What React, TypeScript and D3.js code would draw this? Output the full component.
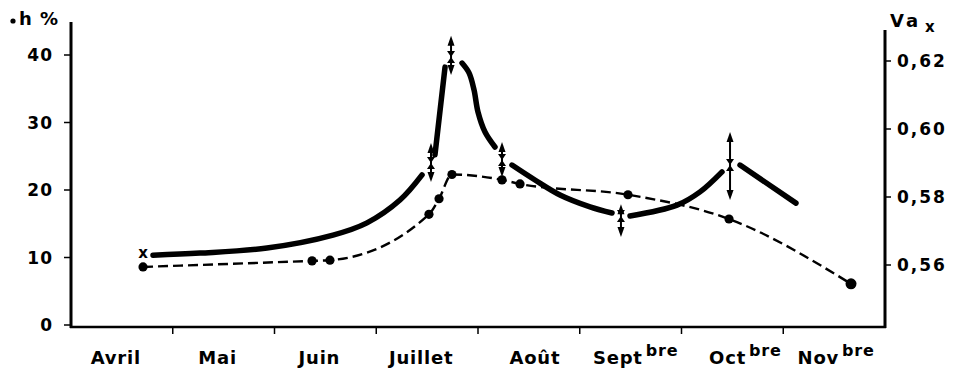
import React from "react";
import * as d3 from "d3";

// ---- data ----
const months = ["Avril", "Mai", "Juin", "Juillet", "Août", "Sept", "Oct", "Nov"];
const monthSup = ["", "", "", "", "", "bre", "bre", "bre"];

const hTicks = [0, 10, 20, 30, 40];
const vaTicks = [0.56, 0.58, 0.6, 0.62];

// h % (dashed line with dots), x in months from start of April
const hX = [0.708, 2.369, 2.545, 3.518, 3.617, 3.744, 4.236, 4.413, 5.474, 6.467, 7.666];
const hY = [8.6, 9.5, 9.6, 16.4, 18.7, 22.3, 21.5, 20.9, 19.3, 15.7, 6.1];

// Va x (thick solid line), drawn in pieces broken at the measured points
const vaSeg1: [number, number][] = [[0.806, 0.5629], [1.268, 0.5635], [1.926, 0.565], [2.575, 0.5688], [2.909, 0.5724], [3.233, 0.5791], [3.45, 0.5865]];
const vaSeg2: [number, number][] = [[3.577, 0.5924], [3.676, 0.6182]];
const vaSeg3: [number, number][] = [[3.843, 0.6194], [3.912, 0.6165], [3.961, 0.6115], [4.0, 0.605], [4.069, 0.5991], [4.167, 0.5947]];
const vaSeg4: [number, number][] = [[4.334, 0.5894], [4.56, 0.585], [4.806, 0.5806], [5.101, 0.5771], [5.317, 0.5753]];
const vaSeg5: [number, number][] = [[5.494, 0.5744], [5.956, 0.5776], [6.182, 0.5815], [6.398, 0.5874]];
const vaSeg6: [number, number][] = [[6.575, 0.5894], [7.125, 0.5782]];
const vaSegments = [vaSeg1, vaSeg2, vaSeg3, vaSeg4, vaSeg5, vaSeg6];

// measured Va x points with ranges
const vaMarkX = [3.538, 3.735, 4.236, 5.405, 6.477];
const vaMarkY = [0.59, 0.6212, 0.5909, 0.5744, 0.5894];
const vaMarkHi = [0.5959, 0.6274, 0.5962, 0.5779, 0.5991];
const vaMarkLo = [0.5844, 0.6159, 0.5859, 0.5682, 0.5791];
const vaStartX = 0.708;
const vaStartY = 0.5635;

// ---- layout ----
const W = 956, H = 370;
const X0 = 71, X1 = 885, BASE = 327;
const FONT = "'DejaVu Sans', sans-serif";
const labelShift = [-6, -6, -6, -6, 6, 5, 13, 2];

export default function App() {
  const x = d3.scaleLinear().domain([0, 8]).range([X0, X1]);
  const yL = d3.scaleLinear().domain([0, 40]).range([325, 55]);
  const yR = d3.scaleLinear().domain([0.56, 0.62]).range([265, 61]);

  const hLine = d3
    .line<number>()
    .x((_, i) => x(hX[i]))
    .y((d) => yL(d))
    .curve(d3.curveMonotoneX);

  const vaLine = d3
    .line<[number, number]>()
    .x((d) => x(d[0]))
    .y((d) => yR(d[1]))
    .curve(d3.curveCatmullRom.alpha(0.5));

  const monthBounds = d3.range(0, 9);

  return (
    <svg
      width={W}
      height={H}
      style={{ position: "absolute", left: 0, top: 0, background: "#fff" }}
      fontFamily={FONT}
    >
      {/* axes */}
      <line x1={X0} y1={22} x2={X0} y2={BASE + 1} stroke="#000" strokeWidth={3} />
      <line x1={X1} y1={30} x2={X1} y2={BASE + 1} stroke="#000" strokeWidth={3} />
      <line x1={X0 - 1} y1={BASE} x2={X1 + 1} y2={BASE} stroke="#000" strokeWidth={2.5} />

      {/* left ticks */}
      {hTicks.map((t) => (
        <g key={"l" + t}>
          <line x1={X0 - 7} x2={X0} y1={yL(t)} y2={yL(t)} stroke="#000" strokeWidth={1.5} />
          <text
            x={X0 - 18}
            y={yL(t)}
            dy="0.36em"
            textAnchor="end"
            fontSize={17}
            fontWeight="bold"
            letterSpacing={1}
          >
            {t}
          </text>
        </g>
      ))}

      {/* right ticks */}
      {vaTicks.map((t) => (
        <g key={"r" + t}>
          <line x1={X1} x2={X1 + 6} y1={yR(t)} y2={yR(t)} stroke="#000" strokeWidth={1.5} />
          <text
            x={X1 + 12}
            y={yR(t)}
            dy="0.36em"
            textAnchor="start"
            fontSize={17}
            fontWeight="bold"
            letterSpacing={2}
          >
            {t.toFixed(2).replace(".", ",")}
          </text>
        </g>
      ))}

      {/* bottom ticks */}
      {monthBounds.slice(1, 8).map((m) => (
        <line key={"b" + m} x1={x(m)} x2={x(m)} y1={BASE} y2={BASE + 7} stroke="#000" strokeWidth={1.5} />
      ))}

      {/* month labels */}
      {months.map((m, i) => (
        <text
          key={m}
          x={x(i + 0.5) + labelShift[i]}
          y={364}
          textAnchor="middle"
          fontSize={18}
          fontWeight="bold"
          letterSpacing={0.8}
        >
          {m}
          {monthSup[i] && (
            <tspan dx={3} dy={-8} fontSize={16}>
              {monthSup[i]}
            </tspan>
          )}
        </text>
      ))}

      {/* axis titles */}
      <circle cx={13} cy={21} r={2.6} fill="#000" />
      <text x={19} y={25} fontSize={18} fontWeight="bold" letterSpacing={1}>
        h %
      </text>
      <text x={890} y={27} fontSize={18} fontWeight="bold" letterSpacing={3}>
        Va
        <tspan dx={4} dy={5} fontSize={15}>
          x
        </tspan>
      </text>

      {/* h % dashed line */}
      <path
        d={hLine(hY) || ""}
        fill="none"
        stroke="#000"
        strokeWidth={2.4}
        strokeDasharray="10 5"
      />
      {hY.map((v, i) => (
        <circle key={"d" + i} cx={x(hX[i])} cy={yL(v)} r={i === hY.length - 1 ? 5.5 : 4.6} fill="#000" />
      ))}

      {/* Va x solid line */}
      {vaSegments.map((seg, i) => (
        <path
          key={"s" + i}
          d={vaLine(seg) || ""}
          fill="none"
          stroke="#000"
          strokeWidth={5.5}
          strokeLinecap="round"
        />
      ))}

      {/* start marker */}
      <text
        x={x(vaStartX)}
        y={yR(vaStartY)}
        dy="0.35em"
        textAnchor="middle"
        fontSize={15}
        fontWeight="bold"
      >
        x
      </text>

      {/* measured markers with ranges */}
      {vaMarkX.map((mx, i) => {
        const cx = x(mx);
        const cy = yR(vaMarkY[i]);
        const top = yR(vaMarkHi[i]);
        const bot = yR(vaMarkLo[i]);
        return (
          <g key={"m" + i}>
            <line x1={cx} x2={cx} y1={top + 4} y2={bot - 4} stroke="#000" strokeWidth={2} />
            <path d={`M${cx},${top} L${cx - 3.5},${top + 10} L${cx + 3.5},${top + 10} Z`} fill="#000" />
            <path d={`M${cx},${bot} L${cx - 3.5},${bot - 10} L${cx + 3.5},${bot - 10} Z`} fill="#000" />
            <path
              d={`M${cx - 4},${cy - 6} L${cx + 4},${cy - 6} L${cx},${cy} Z M${cx - 4},${cy + 6} L${cx + 4},${cy + 6} L${cx},${cy} Z`}
              fill="#000"
            />
          </g>
        );
      })}
    </svg>
  );
}
